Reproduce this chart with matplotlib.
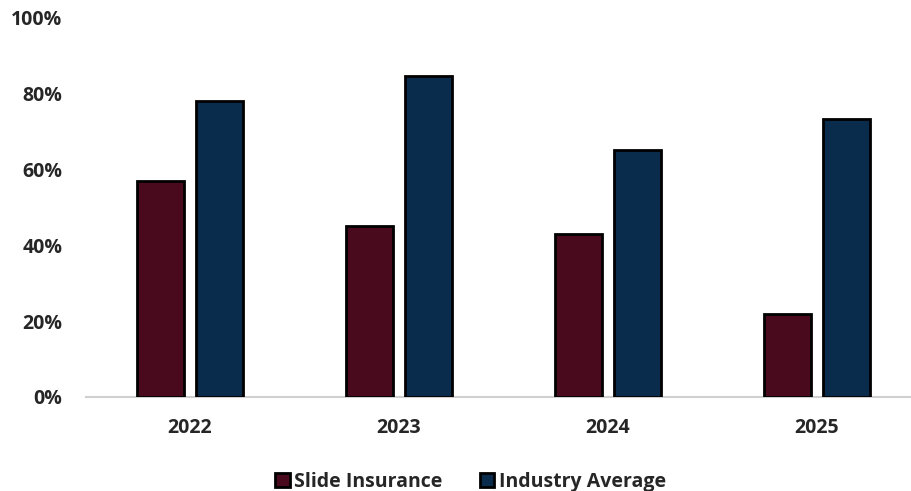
import matplotlib
matplotlib.use("Agg")
import matplotlib.pyplot as plt
import numpy as np

years = ["2022", "2023", "2024", "2025"]
slide = [57.0, 45.1, 43.0, 21.9]
industry = [78.1, 84.7, 65.2, 73.4]
yticks = [0, 20, 40, 60, 80, 100]

plt.rcParams['font.family'] = ['Open Sans', 'DejaVu Sans']
txt = '#262626'

fig = plt.figure(figsize=(9.12, 4.91), dpi=100)
ax = fig.add_axes([86/912, 1-397/491, 1-86/912, (397-18)/491])

x = np.arange(len(years))
w = 0.225
off = 0.142
ax.bar(x - off, slide, w, color='#4A0A1E', edgecolor='black', linewidth=2, label='Slide Insurance', zorder=3)
ax.bar(x + off, industry, w, color='#0A2C4C', edgecolor='black', linewidth=2, label='Industry Average', zorder=3)

ax.set_xlim(-0.498, 3.455)
ax.set_ylim(0, 100)
ax.set_yticks(yticks)
ax.set_yticklabels([f"{v}%" for v in yticks], fontsize=14, fontweight='bold', color=txt)
ax.set_xticks(x)
ax.set_xticklabels(years, fontsize=14, fontweight='bold', color=txt)
ax.tick_params(axis='both', length=0)
ax.tick_params(axis='y', pad=17)
ax.tick_params(axis='x', pad=15)
for s in ['top', 'right', 'left']:
    ax.spines[s].set_visible(False)
ax.spines['bottom'].set_color('#d0d0d0')
ax.spines['bottom'].set_linewidth(1.5)

leg = fig.legend(loc='lower center', bbox_to_anchor=(0.516, -0.038), ncol=2, frameon=False,
                 prop={'size': 14, 'weight': 'bold'}, handlelength=0.75, handleheight=0.75,
                 handletextpad=0.25, columnspacing=1.9)
for t in leg.get_texts():
    t.set_color(txt)

fig.savefig('out.png', dpi=100)
